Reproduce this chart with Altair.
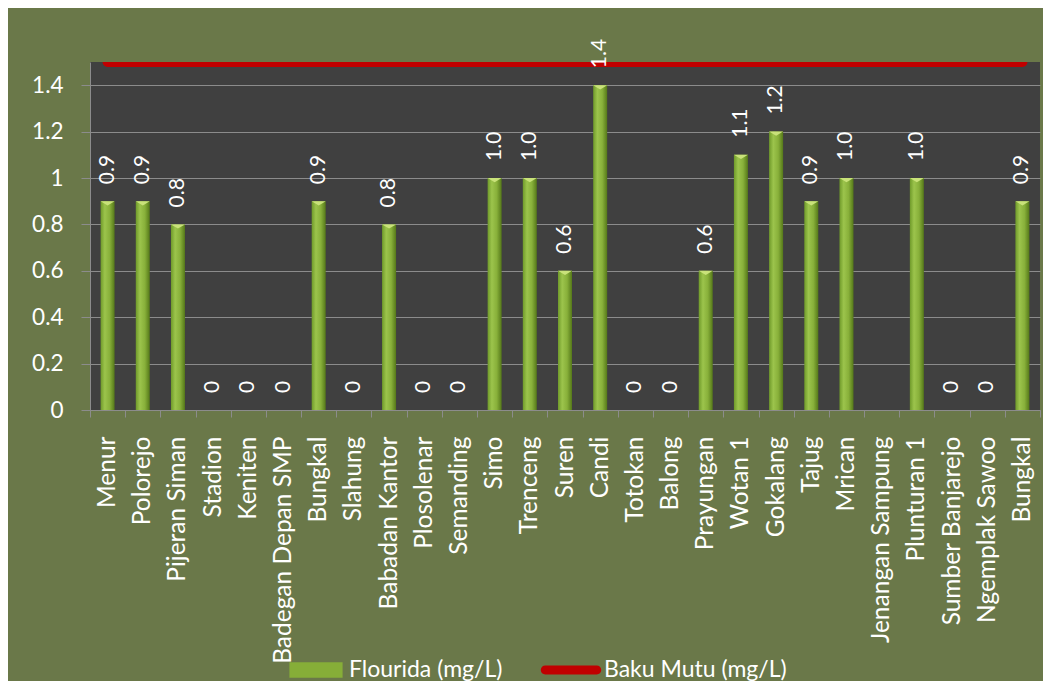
import altair as alt
import pandas as pd

categories = ["Menur", "Polorejo", "Pijeran Siman", "Stadion", "Keniten",
              "Badegan Depan SMP", "Bungkal", "Slahung", "Babadan Kantor",
              "Plosolenar", "Semanding", "Simo", "Trenceng", "Suren", "Candi",
              "Totokan", "Balong", "Prayungan", "Wotan 1", "Gokalang", "Tajug",
              "Mrican", "Jenangan Sampung", "Plunturan 1", "Sumber Banjarejo",
              "Ngemplak Sawoo", "Bungkal"]
flourida = [0.9, 0.9, 0.8, 0, 0, 0, 0.9, 0, 0.8, 0, 0, 1.0, 1.0, 0.6, 1.4,
            0, 0, 0.6, 1.1, 1.2, 0.9, 1.0, None, 1.0, 0, 0, 0.9]
baku_mutu = [1.5] * len(categories)
series_names = ["Flourida (mg/L)", "Baku Mutu (mg/L)"]

FONT = "Lato"
df = pd.DataFrame({
    "idx": list(range(len(categories))),
    "name": categories,
    "flourida": flourida,
    "baku": baku_mutu,
})

label_array = "[" + ",".join("'" + c + "'" for c in categories) + "]"
xenc = alt.X("idx:O", title=None,
             scale=alt.Scale(paddingInner=0, paddingOuter=0),
             axis=alt.Axis(labelExpr=label_array + "[toNumber(datum.value)]",
                           labelAngle=270, labelAlign="right", labelBaseline="middle",
                           labelColor="white", labelFontSize=24.5, labelFont=FONT,
                           labelPadding=19, tickBand="extent", tickColor="#8c8c8c",
                           tickSize=7, domainColor="#8c8c8c", grid=False,
                           labelLimit=400))
yscale = alt.Scale(domain=[0, 1.5], nice=False, zero=True)
yenc = alt.Y("flourida:Q", title=None, scale=yscale,
             axis=alt.Axis(values=[0, 0.2, 0.4, 0.6, 0.8, 1.0, 1.2, 1.4],
                           labelExpr="format(datum.value, '~g')",
                           labelColor="white", labelFontSize=22.5, labelFont=FONT,
                           labelPadding=18, tickColor="#8c8c8c", tickSize=9,
                           domainColor="#8c8c8c", gridColor="#8c8c8c", gridWidth=1.2))

base = alt.Chart(df)

grad = alt.Gradient(gradient="linear", x1=0, x2=1, y1=0, y2=0,
                    stops=[alt.GradientStop(color="#6f9a2a", offset=0),
                           alt.GradientStop(color="#9cc44c", offset=0.3),
                           alt.GradientStop(color="#88b03a", offset=0.65),
                           alt.GradientStop(color="#557819", offset=1)])

bars = base.transform_filter("isValid(datum.flourida)").mark_bar(
    size=14, fill=grad).encode(x=xenc, y=yenc)

caps = base.transform_filter("isValid(datum.flourida) && datum.flourida > 0").mark_point(
    shape="M-1,0L1,0L0,0.6Z", size=196, filled=True, color="#c9e27a", opacity=1,
    strokeWidth=0).encode(x="idx:O", y=alt.Y("flourida:Q", scale=yscale))

line = base.mark_line(color="#c00000", strokeWidth=10, strokeCap="round",
                      clip=True).encode(
    x="idx:O", y=alt.Y("baku:Q", scale=yscale))

labels = base.transform_filter("isValid(datum.flourida)").transform_calculate(
    lbl="datum.flourida == 0 ? '0' : format(datum.flourida, '.1f')"
).mark_text(angle=270, align="left", baseline="middle", dx=17, color="white",
            fontSize=21, font=FONT).encode(
    x="idx:O", y=alt.Y("flourida:Q", scale=yscale), text="lbl:N")

leg_df = pd.DataFrame({"series": series_names, "idx": [0, 0], "v": [0, 0]})
legend_layer = alt.Chart(leg_df).mark_point(filled=True, opacity=0).encode(
    x="idx:O", y=alt.Y("v:Q", scale=yscale),
    color=alt.Color("series:N", title=None,
                    scale=alt.Scale(domain=series_names, range=["#86ae38", "#c00000"]),
                    legend=alt.Legend(orient="none", direction="horizontal",
                                      legendX=198, legendY=580,
                                      labelColor="white", labelFontSize=23,
                                      labelFont=FONT, symbolSize=3136,
                                      symbolOpacity=1, symbolStrokeWidth=0,
                                      columnPadding=37, labelOffset=5,
                                      labelLimit=400)),
    shape=alt.Shape("series:N",
                    scale=alt.Scale(domain=series_names,
                                    range=["M-0.95,-0.28H0.95V0.28H-0.95Z",
                                           "M-0.92,-0.16H0.92A0.16,0.16 0 0 1 0.92,0.16H-0.92A0.16,0.16 0 0 1 -0.92,-0.16Z"]),
                    legend=None),
)

chart = alt.layer(bars, caps, line, labels, legend_layer).properties(
    width=950, height=348,
    background="#6a7849",
    padding={"left": 82, "top": 54, "right": 3, "bottom": 271},
    autosize=alt.AutoSizeParams(type="none"),
).configure_view(fill="#404040", stroke=None)

chart.save("out.html", embed_options={"renderer": "svg", "actions": False})
